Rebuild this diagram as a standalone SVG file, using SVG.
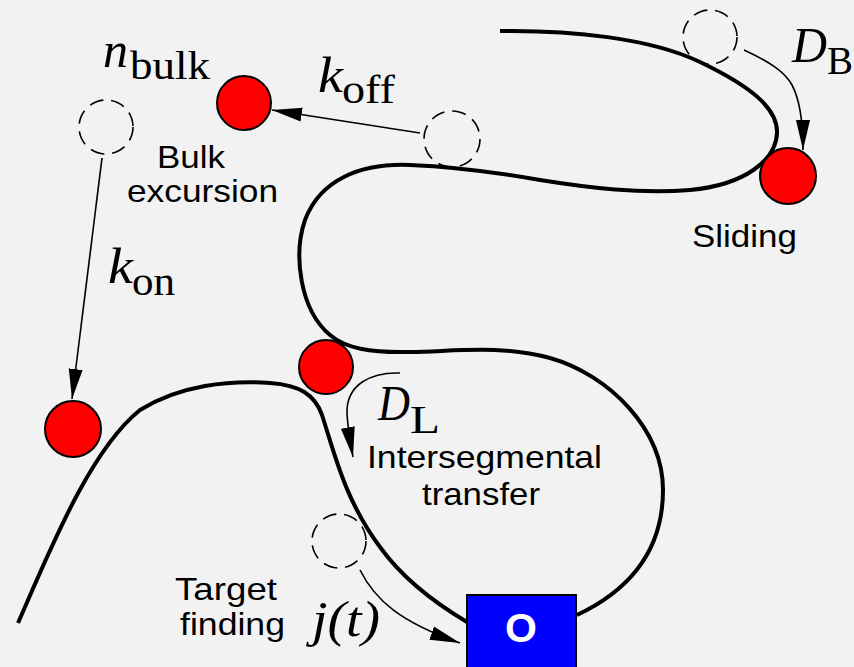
<svg xmlns="http://www.w3.org/2000/svg" width="854" height="667" viewBox="0 0 854 667">
<style>
.dna{fill:none;stroke:#000;stroke-width:4;stroke-linecap:butt}
.bead{fill:#ff0000;stroke:#000;stroke-width:2}
.ghost{fill:none;stroke:#000;stroke-width:1.6;stroke-dasharray:14 8}
.arr{fill:none;stroke:#000;stroke-width:1.6;marker-end:url(#ah)}
.sans{font-family:"Liberation Sans",Arial,sans-serif;font-size:32px;fill:#000}
.math{font-family:"Liberation Serif","Times New Roman",serif;fill:#000;font-size:50px}
.it{font-style:italic}
.sub{font-size:40px;font-style:normal}
</style>
<defs>
<marker id="ah" markerUnits="userSpaceOnUse" markerWidth="34" markerHeight="18" refX="30" refY="7" orient="auto" viewBox="0 0 34 14">
<path d="M0,0 L30,7 L0,14 Z" fill="#000"/>
</marker>
</defs>
<rect x="0" y="0" width="854" height="667" fill="#f2f2f2"/>
<g id="dna">
<path class="dna" d="M 500 31 C 570 30, 650 38, 700 62 C 750 86, 778 108, 777 133 C 776 160, 745 185, 690 190 C 640 194, 590 188, 540 180 C 500 173, 460 167, 410 165 C 360 163, 320 180, 305 220 C 293 255, 300 310, 330 335 C 345 348, 370 353, 410 352 C 460 351, 500 345, 550 358 C 610 375, 663 430, 663 490 C 663 550, 630 590, 577 615"/>
<path class="dna" d="M 18 623 C 50 550, 90 450, 140 410 C 180 385, 230 380, 270 383 C 300 385, 315 395, 322 415 C 335 455, 345 500, 380 547 C 400 575, 430 600, 467 622"/>
</g>
<g id="connectors">
<line class="arr" x1="420" y1="133" x2="272" y2="110"/>
<line class="arr" x1="102" y1="158" x2="72" y2="399"/>
<path class="arr" d="M 744 50 C 770 62, 785 72, 792 85 C 800 100, 803 120, 803 150"/>
<path class="arr" d="M 400 373 C 370 372, 348 385, 347 410 C 347 425, 350 440, 353 457"/>
<path class="arr" d="M 360 570 C 375 600, 400 622, 460 643"/>
</g>
<g id="bead-bulk"><circle class="bead" cx="244" cy="103" r="27"/></g>
<g id="bead-sliding"><circle class="bead" cx="788" cy="176" r="28"/></g>
<g id="bead-transfer"><circle class="bead" cx="326" cy="367" r="27"/></g>
<g id="bead-on"><circle class="bead" cx="73" cy="429" r="28"/></g>
<g id="ghost-bulk"><circle class="ghost" cx="106" cy="127" r="27"/></g>
<g id="ghost-off"><circle class="ghost" cx="452" cy="139" r="28"/></g>
<g id="ghost-slide"><circle class="ghost" cx="710" cy="37" r="27"/></g>
<g id="ghost-target"><circle class="ghost" cx="339" cy="541" r="27"/></g>
<g id="target">
<rect x="467" y="595" width="109" height="80" fill="#0000ff" stroke="#000" stroke-width="2"/>
<text x="521" y="642" text-anchor="middle" font-family="Liberation Sans,Arial,sans-serif" font-weight="bold" font-size="41" fill="#fff">O</text>
</g>
<g id="labels">
<text class="math"><tspan class="it" x="103" y="67" textLength="25" lengthAdjust="spacingAndGlyphs">n</tspan><tspan class="sub" x="130" y="79" textLength="80" lengthAdjust="spacingAndGlyphs">bulk</tspan></text>
<text class="math"><tspan class="it" x="318" y="92" textLength="25" lengthAdjust="spacingAndGlyphs">k</tspan><tspan class="sub" x="342" y="103" textLength="53" lengthAdjust="spacingAndGlyphs">off</tspan></text>
<text class="math"><tspan class="it" x="108" y="283" textLength="25" lengthAdjust="spacingAndGlyphs">k</tspan><tspan class="sub" x="132" y="295" textLength="43" lengthAdjust="spacingAndGlyphs">on</tspan></text>
<text class="math"><tspan class="it" x="792" y="62" textLength="35" lengthAdjust="spacingAndGlyphs">D</tspan><tspan class="sub" x="827" y="74" textLength="26" lengthAdjust="spacingAndGlyphs">B</tspan></text>
<text class="math"><tspan class="it" x="378" y="420" textLength="32" lengthAdjust="spacingAndGlyphs">D</tspan><tspan class="sub" x="410" y="433" textLength="30" lengthAdjust="spacingAndGlyphs">L</tspan></text>
<text class="math it" x="312" y="636" textLength="68" lengthAdjust="spacingAndGlyphs">j(t)</text>
<text class="sans" x="157" y="168" textLength="68" lengthAdjust="spacingAndGlyphs">Bulk</text>
<text class="sans" x="127" y="202" textLength="151" lengthAdjust="spacingAndGlyphs">excursion</text>
<text class="sans" x="692" y="247" textLength="105" lengthAdjust="spacingAndGlyphs">Sliding</text>
<text class="sans" x="367" y="468" textLength="235" lengthAdjust="spacingAndGlyphs">Intersegmental</text>
<text class="sans" x="422" y="505" textLength="118" lengthAdjust="spacingAndGlyphs">transfer</text>
<text class="sans" x="175" y="600" textLength="102" lengthAdjust="spacingAndGlyphs">Target</text>
<text class="sans" x="180" y="635" textLength="105" lengthAdjust="spacingAndGlyphs">finding</text>
</g>
</svg>
